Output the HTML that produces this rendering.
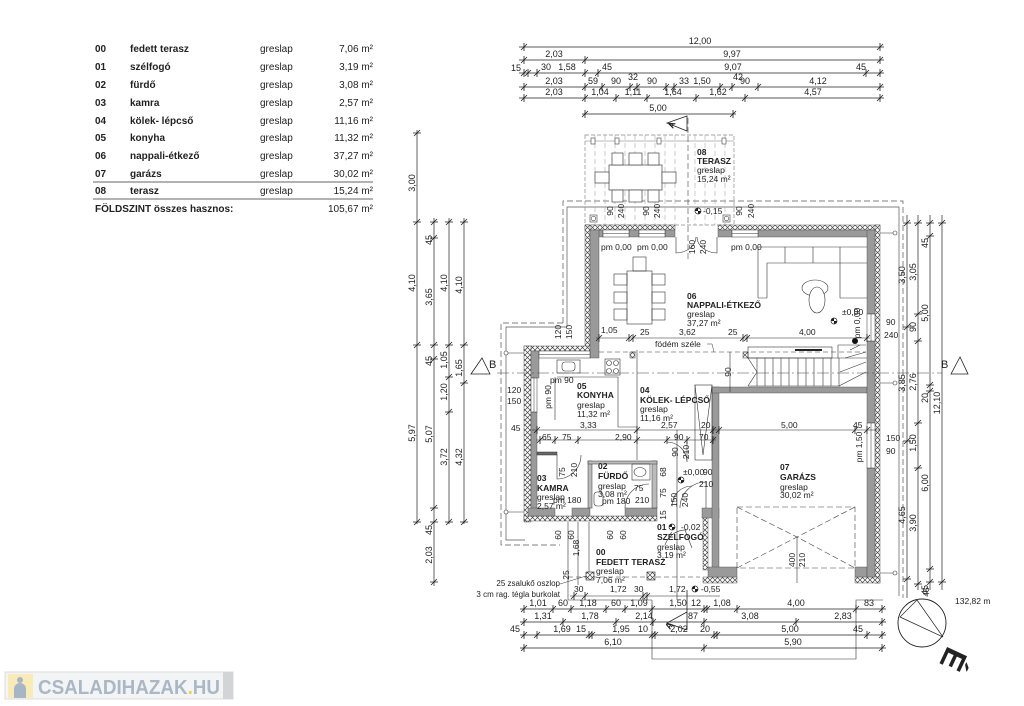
<!DOCTYPE html>
<html><head><meta charset="utf-8">
<style>
html,body{margin:0;padding:0;background:#fff;}
svg{display:block;}
text{font-family:"Liberation Sans",sans-serif;fill:#222;}
.b{font-weight:bold;}
</style></head><body>
<svg width="1024" height="706" viewBox="0 0 1024 706" xmlns="http://www.w3.org/2000/svg">
<defs>
<pattern id="hx" width="5" height="5" patternUnits="userSpaceOnUse">
<rect width="5" height="5" fill="#fff"/>
<path d="M0,0L5,5M5,0L0,5" stroke="#444" stroke-width="0.7"/>
</pattern>
<g id="th"><path d="M0,-4V4M-3,3L3,-3" stroke="#222" stroke-width="0.8" fill="none"/></g>
<g id="tv"><path d="M-4,0H4M-3,3L3,-3" stroke="#222" stroke-width="0.8" fill="none"/></g>
</defs>

<!-- TABLE -->
<g font-size="10">
<g class="b">
<text x="95" y="52">00</text><text x="130" y="52">fedett terasz</text>
<text x="95" y="70">01</text><text x="130" y="70">szélfogó</text>
<text x="95" y="88">02</text><text x="130" y="88">fürdő</text>
<text x="95" y="106">03</text><text x="130" y="106">kamra</text>
<text x="95" y="124">04</text><text x="130" y="124">kölek- lépcső</text>
<text x="95" y="141">05</text><text x="130" y="141">konyha</text>
<text x="95" y="159">06</text><text x="130" y="159">nappali-étkező</text>
<text x="95" y="177">07</text><text x="130" y="177">garázs</text>
<text x="95" y="194">08</text><text x="130" y="194">terasz</text>
<text x="95" y="212">FÖLDSZINT összes hasznos:</text>
</g>
<g>
<text x="260" y="52">greslap</text><text x="260" y="70">greslap</text><text x="260" y="88">greslap</text>
<text x="260" y="106">greslap</text><text x="260" y="124">greslap</text><text x="260" y="141">greslap</text>
<text x="260" y="159">greslap</text><text x="260" y="177">greslap</text><text x="260" y="194">greslap</text>
</g>
<g text-anchor="end">
<text x="373" y="52">7,06 m²</text><text x="373" y="70">3,19 m²</text><text x="373" y="88">3,08 m²</text>
<text x="373" y="106">2,57 m²</text><text x="373" y="124">11,16 m²</text><text x="373" y="141">11,32 m²</text>
<text x="373" y="159">37,27 m²</text><text x="373" y="177">30,02 m²</text><text x="373" y="194">15,24 m²</text>
<text x="373" y="212">105,67 m²</text>
</g>
</g>
<path d="M93,182H373" stroke="#333" stroke-width="0.8"/>
<path d="M93,199H373" stroke="#999" stroke-width="1.6"/>

<!-- TOP DIMENSIONS -->
<path d="M519,47H884M519,60H884M519,73H884M519,87H884M519,98H884M582,114H736" stroke="#222" stroke-width="0.7" fill="none"/>
<g>
<use href="#th" x="524" y="47"/><use href="#th" x="880" y="47"/>
<use href="#th" x="524" y="60"/><use href="#th" x="585" y="60"/><use href="#th" x="880" y="60"/>
<use href="#th" x="524" y="73"/><use href="#th" x="528" y="73"/><use href="#th" x="537" y="73"/><use href="#th" x="585" y="73"/><use href="#th" x="598" y="73"/><use href="#th" x="866" y="73"/><use href="#th" x="880" y="73"/>
<use href="#th" x="524" y="87"/><use href="#th" x="585" y="87"/><use href="#th" x="602" y="87"/><use href="#th" x="630" y="87"/><use href="#th" x="637" y="87"/><use href="#th" x="666" y="87"/><use href="#th" x="674" y="87"/><use href="#th" x="720" y="87"/><use href="#th" x="732" y="87"/><use href="#th" x="758" y="87"/><use href="#th" x="880" y="87"/>
<use href="#th" x="524" y="98"/><use href="#th" x="585" y="98"/><use href="#th" x="616" y="98"/><use href="#th" x="647" y="98"/><use href="#th" x="696" y="98"/><use href="#th" x="745" y="98"/><use href="#th" x="880" y="98"/>
<use href="#th" x="585" y="114"/><use href="#th" x="733" y="114"/>
</g>
<g font-size="9" text-anchor="middle">
<text x="700" y="44">12,00</text>
<text x="554" y="57">2,03</text><text x="732" y="57">9,97</text>
<text x="516" y="71">15</text><text x="546" y="70">30</text><text x="567" y="70">1,58</text><text x="607" y="70">45</text><text x="733" y="70">9,07</text><text x="861" y="70">45</text>
<text x="633" y="80">32</text><text x="738" y="80">42</text>
<text x="554" y="84">2,03</text><text x="593" y="84">59</text><text x="616" y="84">90</text><text x="652" y="84">90</text><text x="684" y="84">33</text><text x="702" y="84">1,50</text><text x="745" y="84">90</text><text x="818" y="84">4,12</text>
<text x="554" y="95">2,03</text><text x="600" y="95">1,04</text><text x="633" y="95">1,11</text><text x="673" y="95">1,64</text><text x="718" y="95">1,62</text><text x="813" y="95">4,57</text>
<text x="658" y="111">5,00</text>
</g>

<!-- Section A top -->
<path d="M687,116L667,123L687,131Z" fill="none" stroke="#222" stroke-width="0.8"/>
<text font-size="9" transform="translate(673,129) rotate(-65)" class="b">A</text>

<!-- Outer outlines -->
<g fill="none" stroke="#555" stroke-width="0.7">
<path d="M563,323V201H903V598" stroke-dasharray="6 3"/>
<path d="M567,327V207H899V596" />
<path d="M563,323H501V545H560" stroke-dasharray="6 3"/>
<path d="M567,327H506V540H525"/>
</g>

<!-- TERRACE 08 -->
<g fill="none">
<rect x="585" y="135" width="149" height="90" stroke="#888" stroke-width="0.7" stroke-dasharray="4 2"/>
<path d="M595,135V225M605,135V225M615,135V225M625,135V225M635,135V225M645,135V225M655,135V225M665,135V225M675,135V225M695,135V225M705,135V225M715,135V225M725,135V225" stroke="#aaa" stroke-width="0.6" stroke-dasharray="5 3"/>
<path d="M585,141H734" stroke="#777" stroke-width="0.6"/>
<path d="M688,118V262" stroke="#444" stroke-width="0.6" stroke-dasharray="6 3"/>
<g stroke="#444" stroke-width="0.7" fill="#fff">
<rect x="609" y="165" width="53" height="25"/>
<rect x="612" y="153" width="11" height="12"/><rect x="629" y="153" width="13" height="12"/><rect x="648" y="153" width="11" height="12"/>
<rect x="612" y="190" width="11" height="12"/><rect x="629" y="190" width="13" height="12"/><rect x="648" y="190" width="11" height="12"/>
<rect x="595" y="172" width="14" height="11"/><rect x="662" y="172" width="14" height="11"/>
</g>
<g stroke="#444" stroke-width="0.6" fill="#fff">
<rect x="591" y="138" width="4" height="6"/><rect x="615" y="138" width="4" height="6"/><rect x="657" y="138" width="4" height="6"/><rect x="722" y="138" width="4" height="6"/>
<rect x="590" y="215" width="7" height="7"/><circle cx="593.5" cy="218.5" r="2.3"/>
<rect x="723" y="215" width="7" height="7"/><circle cx="726.5" cy="218.5" r="2.3"/>
</g>
</g>
<g font-size="8.5">
<text x="697" y="155" class="b">08</text>
<text x="697" y="164" class="b">TERASZ</text>
<text x="697" y="173">greslap</text>
<text x="697" y="182">15,24 m²</text>
</g>
<g font-size="8.5" text-anchor="middle">
<text transform="translate(613,211) rotate(-90)">90</text>
<text transform="translate(624,211) rotate(-90)">240</text>
<text transform="translate(649,211) rotate(-90)">90</text>
<text transform="translate(660,211) rotate(-90)">240</text>
<text transform="translate(742,211) rotate(-90)">90</text>
<text transform="translate(754,211) rotate(-90)">240</text>
<text transform="translate(695,247) rotate(-90)">160</text>
<text transform="translate(706,247) rotate(-90)">240</text>
</g>
<text x="703" y="214" font-size="8.5">-0,15</text>
<g transform="translate(698,211)"><circle r="3" fill="#fff" stroke="#222" stroke-width="0.7"/><path d="M-3,0A3,3 0 0 1 0,-3V0ZM3,0A3,3 0 0 1 0,3V0Z" fill="#222"/></g>

<!-- WALLS hatch -->
<g fill="url(#hx)" stroke="#333" stroke-width="0.4">
<rect x="585" y="225" width="90" height="5"/>
<rect x="718" y="225" width="162" height="5"/>
<rect x="585" y="225" width="5" height="122"/>
<rect x="875" y="225" width="5" height="358"/>
<rect x="524" y="346" width="66" height="5"/>
<rect x="524" y="346" width="7" height="176"/>
<rect x="524" y="516" width="133" height="5"/>
<rect x="703" y="515" width="5" height="55"/>
<rect x="703" y="577" width="34" height="6"/>
<rect x="855" y="577" width="25" height="6"/>
</g>
<!-- WALLS gray -->
<g fill="#9a9a9a" stroke="#444" stroke-width="0.4">
<rect x="590" y="230" width="13" height="7"/>
<rect x="629" y="230" width="10" height="7"/>
<rect x="665" y="230" width="10" height="7"/>
<rect x="718" y="230" width="14" height="7"/>
<rect x="758" y="230" width="117" height="7"/>
<rect x="590" y="230" width="9" height="128"/>
<rect x="531" y="351" width="8" height="27"/>
<rect x="531" y="412" width="6" height="104"/>
<rect x="528" y="508" width="27" height="8"/>
<rect x="572" y="508" width="18" height="8"/>
<rect x="625" y="508" width="32" height="8"/>
<rect x="702" y="508" width="17" height="10"/>
<rect x="712" y="387" width="7" height="190"/>
<rect x="712" y="387" width="155" height="6"/>
<rect x="708" y="567" width="29" height="10"/>
<rect x="855" y="567" width="12" height="10"/>
<rect x="867" y="230" width="8" height="84"/>
<rect x="867" y="341" width="8" height="82"/>
<rect x="867" y="468" width="8" height="109"/>
</g>
<!-- windows -->
<g fill="#fff" stroke="#333" stroke-width="0.5">
<rect x="603" y="230" width="26" height="7"/><rect x="639" y="230" width="26" height="7"/><rect x="732" y="230" width="26" height="7"/>
<rect x="867" y="314" width="8" height="27"/><rect x="867" y="423" width="8" height="45"/>
<rect x="531" y="378" width="6" height="34"/>
<rect x="539" y="351" width="51" height="7"/>
</g>
<path d="M603,233.5H629M639,233.5H665M732,233.5H758M871,314V341M871,423V468M534,378V412M539,354.5H590" stroke="#333" stroke-width="0.5"/>
<!-- top door -->
<path d="M676,237V253A21,16 0 0 0 696,237M717,237V253A21,16 0 0 1 697,237" fill="none" stroke="#333" stroke-width="0.6"/>

<!-- interior partitions -->
<g fill="#bbb" stroke="#333" stroke-width="0.5">
<rect x="588" y="461" width="4" height="47"/>
<rect x="652" y="461" width="5" height="47"/>
<rect x="588" y="461" width="69" height="3"/>
<rect x="537" y="452" width="20" height="3" fill="#666"/>
<rect x="630" y="352" width="5" height="6" fill="url(#hx)"/>
<rect x="743" y="352" width="5" height="6" fill="url(#hx)"/>
</g>
<g fill="none" stroke="#333" stroke-width="0.6">
<path d="M555,377V420M557,377H618V427H637M637,350V460"/>
<rect x="695" y="385" width="17" height="75"/>
<path d="M695,385L703,455L712,385"/>
<rect x="557" y="360" width="23" height="13"/>
<rect x="562" y="362" width="13" height="9" rx="3"/>
<rect x="605" y="359" width="15" height="16"/>
<circle cx="609" cy="363" r="2.5"/><circle cx="616" cy="363" r="2.5"/><circle cx="609" cy="371" r="2.5"/><circle cx="616" cy="371" r="2.5"/>
<rect x="632" y="464" width="18" height="16"/>
<ellipse cx="640" cy="472" rx="6" ry="4.5"/>
<rect x="594" y="492" width="9" height="14" rx="3"/>
<path d="M557,455V479A24,24 0 0 0 581,455"/>
<path d="M625,508A24,24 0 0 1 649,484"/>
<path d="M667,442A20,20 0 0 1 687,462V442"/>
<path d="M680,508A26,26 0 0 1 706,482V508"/>
<path d="M672,506A20,20 0 0 1 692,486"/>
<path d="M685,530L692,548M665,545A22,22 0 0 1 687,530"/>
<rect x="627" y="271" width="25" height="53"/>
<rect x="614" y="274" width="13" height="11"/><rect x="614" y="292" width="13" height="11"/><rect x="614" y="309" width="13" height="11"/>
<rect x="652" y="274" width="13" height="11"/><rect x="652" y="292" width="13" height="11"/><rect x="652" y="309" width="13" height="11"/>
<rect x="633" y="257" width="13" height="14"/>
<path d="M758,298V247H867M767,298V263H867M758,298H767M840,263V298H867M785,247V263M813,247V263M840,247V263"/>
<ellipse cx="815" cy="288" rx="13" ry="8"/>
<ellipse cx="817" cy="300" rx="8" ry="13" fill="#fff"/>
<rect x="748" y="347" width="84" height="11"/>
<path d="M748,358H867M748,386H840M757,358V386M765,358V386M773,358V386M781,358V386M789,358V386M798,358V386M806,358V386M814,358V386M823,358V386M831,358V386M839,358V386"/>
<path d="M748,358L757,372L748,386"/>
<path d="M838,345H866M839,386L866,372M840,372L866,362M845,358L866,352M850,350L860,345M838,345V358"/>
<g stroke-dasharray="6 3" stroke="#444">
<rect x="737" y="507" width="118" height="61"/>
<path d="M737,507L797,537L855,507M737,568L797,537L855,568"/>
</g>
<path d="M797,537V583"/>
<path d="M568,522V600H652M589,522V573M578,522V585"/>
<path d="M568,577H700" stroke-dasharray="5 3"/>
<path d="M652,600V659H856V600H883"/>
<path d="M677,430V600M730,352V392"/>
</g>
<circle cx="855" cy="341" r="3" fill="#111"/>
<rect x="795" y="349" width="27" height="2" fill="#222"/>
<g fill="url(#hx)" stroke="#222" stroke-width="0.6">
<rect x="586" y="572" width="8" height="8"/><rect x="647" y="572" width="8" height="8"/>
</g>
<path d="M560,584L586,576" stroke="#333" stroke-width="0.5"/>

<!-- födém széle & B line -->
<path d="M599,352H866" stroke="#333" stroke-width="0.6" stroke-dasharray="5 3"/>
<path d="M707,344H712L714,352" stroke="#333" stroke-width="0.5" fill="none"/>
<path d="M497,373H942" stroke="#444" stroke-width="0.6" stroke-dasharray="12 3 2 3"/>
<path d="M482,358L471,374H490Z M960,357L951,374H968Z" fill="#fff" stroke="#222" stroke-width="0.8"/>
<text x="489" y="368" font-size="11">B</text>
<text x="941" y="368" font-size="11">B</text>

<!-- small downspout symbols -->
<g stroke="#333" stroke-width="0.6" fill="#fff">
<path d="M880,233H895M880,383H895M880,573H895M506,353H524M506,512H524"/>
<circle cx="895" cy="233" r="2"/><circle cx="895" cy="383" r="2"/><circle cx="895" cy="573" r="2"/>
<circle cx="506" cy="353" r="2"/><circle cx="506" cy="512" r="2"/>
</g>

<!-- interior dim lines -->
<path d="M596,338H870M532,430H880M536,440H716M570,596H720" stroke="#222" stroke-width="0.6"/>
<g>
<use href="#th" x="599" y="338"/><use href="#th" x="629" y="338"/><use href="#th" x="633" y="338"/><use href="#th" x="743" y="338"/><use href="#th" x="747" y="338"/><use href="#th" x="867" y="338"/>
<use href="#th" x="537" y="430"/><use href="#th" x="637" y="430"/><use href="#th" x="713" y="430"/><use href="#th" x="719" y="430"/><use href="#th" x="855" y="430"/><use href="#th" x="867" y="430"/>
<use href="#th" x="540" y="440"/><use href="#th" x="555" y="440"/><use href="#th" x="578" y="440"/><use href="#th" x="637" y="440"/><use href="#th" x="667" y="440"/><use href="#th" x="687" y="440"/><use href="#th" x="713" y="440"/>
<use href="#th" x="574" y="596"/><use href="#th" x="585" y="596"/><use href="#th" x="643" y="596"/><use href="#th" x="647" y="596"/>
</g>

<!-- plan labels -->
<g font-size="8.5">
<text x="601" y="250">pm 0,00</text><text x="637" y="250">pm 0,00</text><text x="731" y="250">pm 0,00</text>
<text x="687" y="299" class="b">06</text>
<text x="687" y="308" class="b">NAPPALI-ÉTKEZŐ</text>
<text x="687" y="317">greslap</text>
<text x="687" y="326">37,27 m²</text>
<text x="842" y="315">±0,00</text>
<text x="601" y="333">1,05</text><text x="640" y="335">25</text><text x="679" y="335">3,62</text><text x="728" y="335">25</text><text x="799" y="335">4,00</text>
<text x="886" y="325">90</text><text x="884" y="338">240</text>
<text x="655" y="347">födém széle</text>
<text x="550" y="383">pm 90</text>
<text x="507" y="393">120</text><text x="507" y="404">150</text>
<text x="577" y="389" class="b">05</text>
<text x="577" y="398" class="b">KONYHA</text>
<text x="577" y="408">greslap</text>
<text x="577" y="417">11,32 m²</text>
<text x="640" y="393" class="b">04</text>
<text x="640" y="403" class="b">KÖLEK- LÉPCSŐ</text>
<text x="640" y="412">greslap</text>
<text x="640" y="421">11,16 m²</text>
<text x="511" y="431">45</text>
<text x="580" y="428">3,33</text><text x="661" y="428">2,57</text><text x="701" y="428">20</text>
<text x="781" y="428">5,00</text><text x="853" y="428">45</text>
<text x="542" y="440">65</text><text x="562" y="440">75</text><text x="615" y="440">2,90</text><text x="674" y="440">90</text><text x="699" y="440">70</text>
<text x="886" y="441">150</text><text x="886" y="454">90</text>
<text x="598" y="469" class="b">02</text>
<text x="598" y="479" class="b">FÜRDŐ</text>
<text x="598" y="489">greslap</text>
<text x="598" y="497">3,08 m²</text>
<text x="602" y="504">pm 180</text>
<text x="537" y="481" class="b">03</text>
<text x="537" y="491" class="b">KAMRA</text>
<text x="537" y="500">greslap</text>
<text x="537" y="509">2,57 m²</text>
<text x="553" y="503">pm 180</text>
<text x="634" y="491">75</text><text x="635" y="503">210</text>
<text x="683" y="475">±0,00</text><text x="703" y="475">90</text><text x="699" y="487">210</text>
<text x="780" y="470" class="b">07</text>
<text x="780" y="480" class="b">GARÁZS</text>
<text x="780" y="490">greslap</text>
<text x="780" y="498">30,02 m²</text>
<text x="657" y="530" class="b">01</text><text x="681" y="530">-0,02</text>
<text x="657" y="540" class="b">SZÉLFOGÓ</text>
<text x="657" y="550">greslap</text>
<text x="657" y="558">3,19 m²</text>
<text x="596" y="555" class="b">00</text>
<text x="596" y="565" class="b">FEDETT TERASZ</text>
<text x="596" y="574">greslap</text>
<text x="596" y="583">7,06 m²</text>
<text x="574" y="592">30</text><text x="610" y="592">1,72</text><text x="634" y="592">30</text><text x="669" y="592">1,72</text><text x="701" y="592">-0,55</text>
</g>
<g transform="translate(672,527)"><circle r="3" fill="#fff" stroke="#222" stroke-width="0.7"/><path d="M-3,0A3,3 0 0 1 0,-3V0ZM3,0A3,3 0 0 1 0,3V0Z" fill="#222"/></g>
<g transform="translate(695,589)"><circle r="3" fill="#fff" stroke="#222" stroke-width="0.7"/><path d="M-3,0A3,3 0 0 1 0,-3V0ZM3,0A3,3 0 0 1 0,3V0Z" fill="#222"/></g>
<g transform="translate(834,321)"><circle r="3" fill="#fff" stroke="#222" stroke-width="0.7"/><path d="M-3,0A3,3 0 0 1 0,-3V0ZM3,0A3,3 0 0 1 0,3V0Z" fill="#222"/></g>
<g transform="translate(681,480)"><circle r="3" fill="#fff" stroke="#222" stroke-width="0.7"/><path d="M-3,0A3,3 0 0 1 0,-3V0ZM3,0A3,3 0 0 1 0,3V0Z" fill="#222"/></g>
<g font-size="8" text-anchor="end">
<text x="560" y="586">25 zsalukő oszlop</text>
<text x="560" y="597">3 cm rag. tégla burkolat</text>
</g>
<g font-size="8.5" text-anchor="middle">
<text transform="translate(561,332) rotate(-90)">120</text>
<text transform="translate(572,332) rotate(-90)">150</text>
<text transform="translate(551,397) rotate(-90)">pm 90</text>
<text transform="translate(731,372) rotate(-90)">90</text>
<text transform="translate(860,323) rotate(-90)">pm 0,00</text>
<text transform="translate(862,447) rotate(-90)">pm 1,50</text>
<text transform="translate(565,472) rotate(-90)">75</text>
<text transform="translate(577,470) rotate(-90)">210</text>
<text transform="translate(678,452) rotate(-90)">90</text>
<text transform="translate(689,452) rotate(-90)">210</text>
<text transform="translate(666,472) rotate(-90)">68</text>
<text transform="translate(666,493) rotate(-90)">75</text>
<text transform="translate(677,500) rotate(-90)">150</text>
<text transform="translate(688,500) rotate(-90)">240</text>
<text transform="translate(666,515) rotate(-90)">15</text>
<text transform="translate(561,535) rotate(-90)">60</text>
<text transform="translate(574,535) rotate(-90)">60</text>
<text transform="translate(613,535) rotate(-90)">60</text>
<text transform="translate(626,535) rotate(-90)">60</text>
<text transform="translate(579,548) rotate(-90)">1,68</text>
<text transform="translate(569,575) rotate(-90)">25</text>
<text transform="translate(795,560) rotate(-90)">400</text>
<text transform="translate(805,560) rotate(-90)">210</text>
</g>

<!-- LEFT DIMENSIONS -->
<path d="M417,130V524M434,218V586M449,218V524M464,218V524" stroke="#222" stroke-width="0.7"/>
<g>
<use href="#tv" x="417" y="133"/><use href="#tv" x="417" y="222"/><use href="#tv" x="417" y="345"/><use href="#tv" x="417" y="522"/>
<use href="#tv" x="434" y="222"/><use href="#tv" x="434" y="238"/><use href="#tv" x="434" y="345"/><use href="#tv" x="434" y="359"/><use href="#tv" x="434" y="508"/><use href="#tv" x="434" y="522"/><use href="#tv" x="434" y="582"/>
<use href="#tv" x="449" y="222"/><use href="#tv" x="449" y="345"/><use href="#tv" x="449" y="377"/><use href="#tv" x="449" y="412"/><use href="#tv" x="449" y="522"/>
<use href="#tv" x="464" y="222"/><use href="#tv" x="464" y="345"/><use href="#tv" x="464" y="383"/><use href="#tv" x="464" y="522"/>
</g>
<g font-size="9" text-anchor="middle">
<text transform="translate(415,183) rotate(-90)">3,00</text>
<text transform="translate(415,283) rotate(-90)">4,10</text>
<text transform="translate(415,433) rotate(-90)">5,97</text>
<text transform="translate(432,240) rotate(-90)">45</text>
<text transform="translate(432,297) rotate(-90)">3,65</text>
<text transform="translate(432,361) rotate(-90)">45</text>
<text transform="translate(432,434) rotate(-90)">5,07</text>
<text transform="translate(432,530) rotate(-90)">45</text>
<text transform="translate(432,555) rotate(-90)">2,03</text>
<text transform="translate(447,283) rotate(-90)">4,10</text>
<text transform="translate(447,360) rotate(-90)">1,05</text>
<text transform="translate(447,392) rotate(-90)">1,20</text>
<text transform="translate(447,457) rotate(-90)">3,72</text>
<text transform="translate(462,285) rotate(-90)">4,10</text>
<text transform="translate(462,368) rotate(-90)">1,65</text>
<text transform="translate(462,457) rotate(-90)">4,32</text>
</g>

<!-- RIGHT DIMENSIONS -->
<path d="M907,215V598M918,215V590M930,215V590M942,215V590" stroke="#222" stroke-width="0.7"/>
<g>
<use href="#tv" x="907" y="223"/><use href="#tv" x="907" y="327"/><use href="#tv" x="907" y="441"/><use href="#tv" x="907" y="579"/>
<use href="#tv" x="918" y="223"/><use href="#tv" x="918" y="314"/><use href="#tv" x="918" y="341"/><use href="#tv" x="918" y="423"/><use href="#tv" x="918" y="468"/><use href="#tv" x="918" y="584"/>
<use href="#tv" x="930" y="223"/><use href="#tv" x="930" y="236"/><use href="#tv" x="930" y="385"/><use href="#tv" x="930" y="391"/><use href="#tv" x="930" y="569"/><use href="#tv" x="930" y="582"/>
<use href="#tv" x="942" y="223"/><use href="#tv" x="942" y="582"/>
</g>
<g font-size="9" text-anchor="middle">
<text transform="translate(905,275) rotate(-90)">3,50</text>
<text transform="translate(905,383) rotate(-90)">3,85</text>
<text transform="translate(905,515) rotate(-90)">4,65</text>
<text transform="translate(916,272) rotate(-90)">3,05</text>
<text transform="translate(916,327) rotate(-90)">90</text>
<text transform="translate(916,382) rotate(-90)">2,76</text>
<text transform="translate(916,443) rotate(-90)">1,50</text>
<text transform="translate(916,523) rotate(-90)">3,90</text>
<text transform="translate(928,243) rotate(-90)">45</text>
<text transform="translate(928,313) rotate(-90)">5,00</text>
<text transform="translate(928,398) rotate(-90)">20</text>
<text transform="translate(928,483) rotate(-90)">6,00</text>
<text transform="translate(928,590) rotate(-90)">45</text>
<text transform="translate(940,403) rotate(-90)">12,10</text>
</g>

<!-- BOTTOM DIMENSIONS -->
<path d="M520,609H886M520,622H886M520,635H886M520,648H886" stroke="#222" stroke-width="0.7"/>
<g>
<use href="#th" x="524" y="609"/><use href="#th" x="553" y="609"/><use href="#th" x="571" y="609"/><use href="#th" x="606" y="609"/><use href="#th" x="625" y="609"/><use href="#th" x="652" y="609"/><use href="#th" x="704" y="609"/><use href="#th" x="707" y="609"/><use href="#th" x="737" y="609"/><use href="#th" x="856" y="609"/><use href="#th" x="882" y="609"/>
<use href="#th" x="524" y="622"/><use href="#th" x="563" y="622"/><use href="#th" x="616" y="622"/><use href="#th" x="653" y="622"/><use href="#th" x="704" y="622"/><use href="#th" x="796" y="622"/><use href="#th" x="882" y="622"/>
<use href="#th" x="524" y="635"/><use href="#th" x="537" y="635"/><use href="#th" x="589" y="635"/><use href="#th" x="592" y="635"/><use href="#th" x="652" y="635"/><use href="#th" x="655" y="635"/><use href="#th" x="714" y="635"/><use href="#th" x="717" y="635"/><use href="#th" x="867" y="635"/><use href="#th" x="882" y="635"/>
<use href="#th" x="524" y="648"/><use href="#th" x="704" y="648"/><use href="#th" x="882" y="648"/>
</g>
<g font-size="9" text-anchor="middle">
<text x="538" y="606">1,01</text><text x="563" y="606">60</text><text x="588" y="606">1,18</text><text x="616" y="606">60</text><text x="639" y="606">1,09</text><text x="678" y="606">1,50</text><text x="696" y="606">12</text><text x="722" y="606">1,08</text><text x="796" y="606">4,00</text><text x="869" y="606">83</text>
<text x="543" y="619">1,31</text><text x="590" y="619">1,78</text><text x="644" y="619">2,14</text><text x="693" y="619">87</text><text x="750" y="619">3,08</text><text x="843" y="619">2,83</text>
<text x="515" y="632">45</text><text x="562" y="632">1,69</text><text x="581" y="632">15</text><text x="621" y="632">1,95</text><text x="643" y="632">10</text><text x="679" y="632">2,02</text><text x="705" y="632">20</text><text x="790" y="632">5,00</text><text x="858" y="632">45</text>
<text x="613" y="645">6,10</text><text x="793" y="645">5,90</text>
</g>
<path d="M687,590V630M687,612L667,623L687,630" fill="none" stroke="#222" stroke-width="0.8"/>
<text font-size="9" transform="translate(670,630) rotate(-60)" class="b">A</text>

<!-- COMPASS -->
<circle cx="922" cy="623" r="24" fill="none" stroke="#222" stroke-width="0.9"/>
<path d="M917,600L943,637M900,617L917,600M900,617L943,637" stroke="#222" stroke-width="0.7" fill="none"/>
<text font-size="8.5" transform="translate(929,592) rotate(-90)" text-anchor="middle">45</text>
<text x="955" y="604" font-size="8.5">132,82 m</text>
<text font-size="32" class="b" transform="translate(948,645) rotate(115)" fill="#111">É</text>

<!-- LOGO -->
<rect x="5" y="672" width="228" height="27" fill="#f3f4f5" stroke="#dcdcdc" stroke-width="1"/>
<rect x="223" y="672" width="10" height="27" fill="#d2d4d6"/>
<rect x="8" y="674" width="25" height="24" fill="#f8ebb8"/>
<circle cx="20" cy="680" r="3" fill="#a6b6c6"/>
<path d="M14,698V689A6,6 0 0 1 26,689V698Z" fill="#a6b6c6"/>
<text x="38" y="694" font-size="20" class="b" textLength="182" lengthAdjust="spacingAndGlyphs" style="fill:#aab7c4">CSALADIHAZAK<tspan style="fill:#f0cf5e">.</tspan>HU</text>
</svg>
</body></html>
